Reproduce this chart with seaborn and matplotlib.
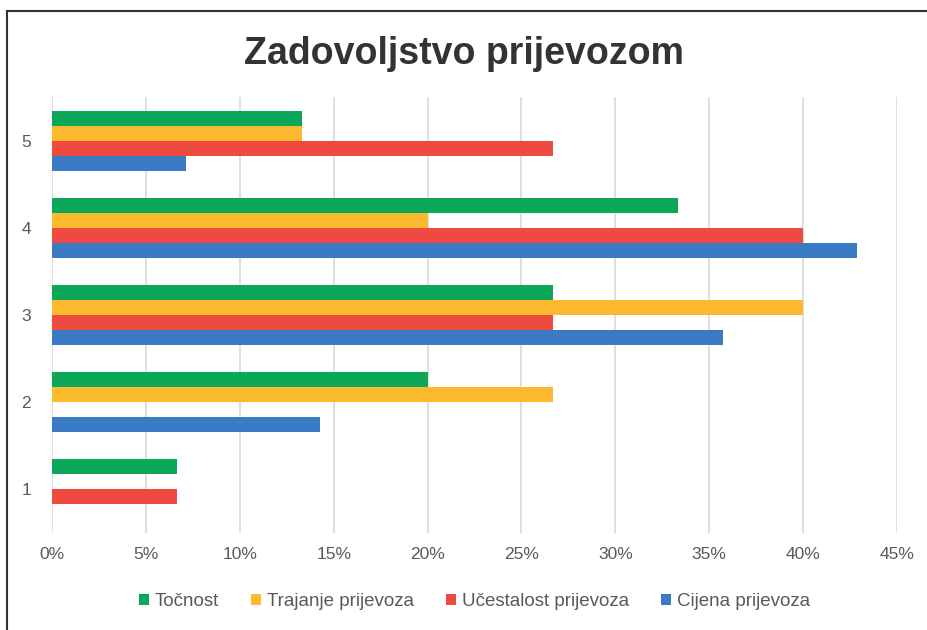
import pandas as pd
import matplotlib.pyplot as plt
import matplotlib.patches as mpatches
from matplotlib.ticker import PercentFormatter
import seaborn as sns

# survey answers (share of respondents per grade)
grades = ['5', '4', '3', '2', '1']
series = ['Točnost', 'Trajanje prijevoza', 'Učestalost prijevoza', 'Cijena prijevoza']
tocnost = [13.33, 33.33, 26.67, 20.0, 6.67]
trajanje = [13.33, 20.0, 40.0, 26.67, 0.0]
ucestalost = [26.67, 40.0, 26.67, 0.0, 6.67]
cijena = [7.14, 42.86, 35.71, 14.29, 0.0]
colors = ['#0CA85A', '#FBBA2E', '#EE4A3F', '#3B7BC6']

rows = []
for name, vals in zip(series, [tocnost, trajanje, ucestalost, cijena]):
    for g, v in zip(grades, vals):
        rows.append({'ocjena': g, 'udio': v, 'kategorija': name})
df = pd.DataFrame(rows)

sns.set_style('white')
plt.rcParams['font.family'] = ['Liberation Sans', 'DejaVu Sans']

fig = plt.figure(figsize=(9.27, 6.3), dpi=100)
ax = fig.add_axes([52 / 927, 1 - 533 / 630, 845 / 927, 436 / 630])

sns.barplot(data=df, x='udio', y='ocjena', hue='kategorija', order=grades,
            hue_order=series, palette=colors, orient='h', width=0.69,
            gap=0, saturation=1, linewidth=0, ax=ax)

ax.set_xlim(0, 45)
ax.set_xticks(range(0, 50, 5))
ax.xaxis.set_major_formatter(PercentFormatter(decimals=0))
ax.grid(axis='x', color='#D9D9D9', linewidth=1.2)
ax.set_axisbelow(True)
for s in ax.spines.values():
    s.set_visible(False)
ax.set_xlabel('')
ax.set_ylabel('')
ax.tick_params(axis='both', length=0, labelsize=12.5, labelcolor='#595959')
ax.tick_params(axis='x', pad=10)
ax.tick_params(axis='y', pad=15)

ax.legend(loc='upper center', bbox_to_anchor=(0.5, -0.1), ncol=4,
          frameon=False, fontsize=13.5, labelcolor='#595959',
          handlelength=0.55, handleheight=0.55, handletextpad=0.3,
          columnspacing=1.7)

fig.text(0.5, 1 - 54 / 630, 'Zadovoljstvo prijevozom', ha='center',
         va='center', fontsize=27, fontweight='bold', color='#333333')

# frame around the chart (only left and top visible in the crop)
fig.patches.append(mpatches.Rectangle((7 / 927, -0.05), 1.1, 1 - 11 / 630 + 0.05,
                                      transform=fig.transFigure, fill=False,
                                      edgecolor='#333333', linewidth=1.5))

fig.savefig('out.png', dpi=100)
